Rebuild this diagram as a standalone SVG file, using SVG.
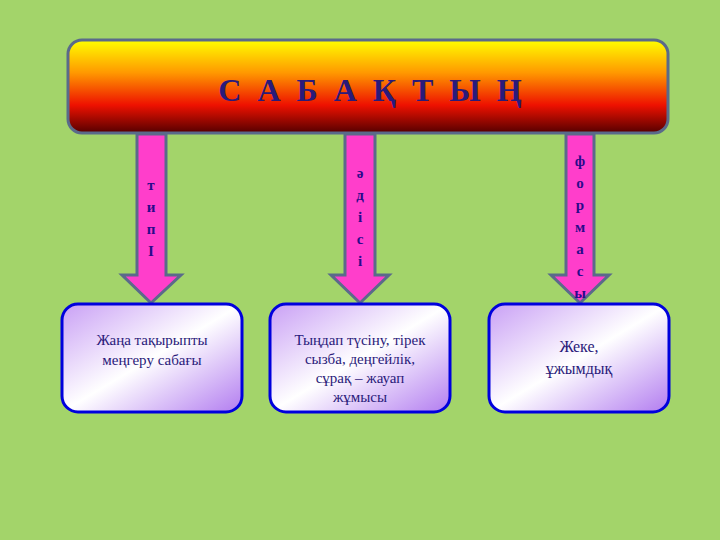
<svg xmlns="http://www.w3.org/2000/svg" width="720" height="540" viewBox="0 0 720 540">
<defs>
<linearGradient id="tg" x1="0" y1="0" x2="0" y2="1">
<stop offset="0" stop-color="#ffff00"/><stop offset="0.35" stop-color="#ff9900"/><stop offset="0.7" stop-color="#ee1100"/><stop offset="1" stop-color="#550000"/>
</linearGradient>
<linearGradient id="bg" x1="0" y1="0" x2="1" y2="1">
<stop offset="0" stop-color="#c9a0f5"/><stop offset="0.5" stop-color="#ffffff"/><stop offset="1" stop-color="#b27cf0"/>
</linearGradient>
<style>
.ar{fill:#ff3ecb;stroke:#5a6a8a;stroke-width:3}
.bx{fill:url(#bg);stroke:#0000dd;stroke-width:3}
.t{font-family:"Liberation Serif",serif;fill:#2a1a7a;text-anchor:middle}
.v{font-family:"Liberation Serif",serif;font-weight:bold;font-size:15px;fill:#2a0a8a;text-anchor:middle}
</style>
</defs>
<rect width="720" height="540" fill="#a3d46a"/>
<g id="connectors">
<polygon class="ar" points="137,134 166,134 166,275 181,275 151,303 122,275 137,275"/>
<polygon class="ar" points="345,134 375,134 375,275 389,275 360,303 331,275 345,275"/>
<polygon class="ar" points="566,134 594,134 594,275 609,275 580,303 551,275 566,275"/>
</g>
<g id="title">
<rect x="68" y="40" width="600" height="93" rx="14" fill="url(#tg)" stroke="#5a6a8a" stroke-width="3"/>
<text class="t" x="372" y="101" font-size="32" font-weight="bold" letter-spacing="4" fill="#3535a5">С А Б А Қ Т Ы Ң</text>
</g>
<g id="lab1"><text class="v" x="151" y="190">т</text><text class="v" x="151" y="212">и</text><text class="v" x="151" y="234">п</text><text class="v" x="151" y="256">І</text></g>
<g id="lab2"><text class="v" x="360" y="178">ə</text><text class="v" x="360" y="200">д</text><text class="v" x="360" y="222">і</text><text class="v" x="360" y="244">с</text><text class="v" x="360" y="266">і</text></g>
<g id="lab3"><text class="v" x="580" y="166">ф</text><text class="v" x="580" y="188">о</text><text class="v" x="580" y="210">р</text><text class="v" x="580" y="232">м</text><text class="v" x="580" y="254">а</text><text class="v" x="580" y="276">с</text><text class="v" x="580" y="298">ы</text></g>
<g id="box1"><rect class="bx" x="62" y="304" width="180" height="108" rx="16"/>
<text class="t" x="152" y="345" font-size="15">Жаңа тақырыпты</text><text class="t" x="152" y="365" font-size="15">меңгеру сабағы</text></g>
<g id="box2"><rect class="bx" x="270" y="304" width="180" height="108" rx="16"/>
<text class="t" x="360" y="345" font-size="15">Тыңдап түсіну, тірек</text><text class="t" x="360" y="364" font-size="15">сызба, деңгейлік,</text><text class="t" x="360" y="383" font-size="15">сұрақ – жауап</text><text class="t" x="360" y="402" font-size="15">жұмысы</text></g>
<g id="box3"><rect class="bx" x="489" y="304" width="180" height="108" rx="16"/>
<text class="t" x="579" y="352" font-size="16">Жеке,</text><text class="t" x="579" y="374" font-size="16">ұжымдық</text></g>
</svg>
